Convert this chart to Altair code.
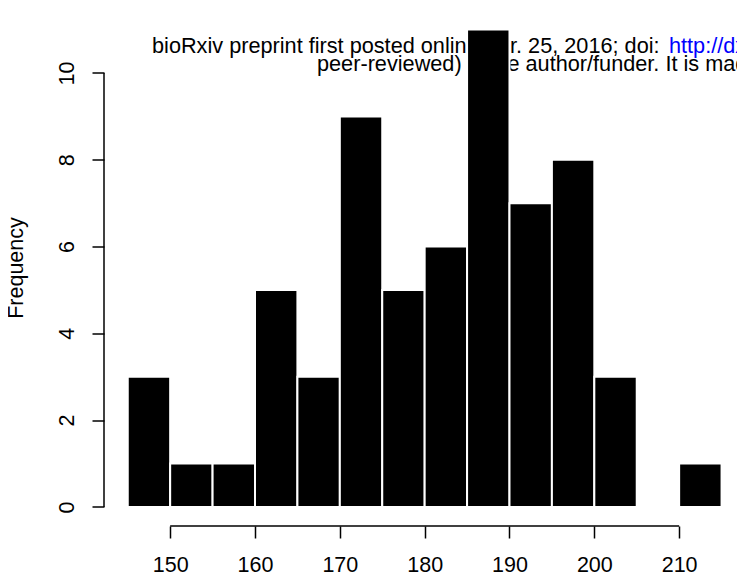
import altair as alt
import pandas as pd

# ---- data ----
bin_starts = [145, 150, 155, 160, 165, 170, 175, 180, 185, 190, 195, 200, 205, 210]
counts = [3, 1, 1, 5, 3, 9, 5, 6, 11, 7, 8, 3, 0, 1]
bin_width = 5
x_ticks = [150, 160, 170, 180, 190, 200, 210]
y_ticks = [0, 2, 4, 6, 8, 10]
y_title = "Frequency"
header_line1 = "bioRxiv preprint first posted online Apr. 25, 2016; doi: "
header_url = "http://dx.doi.org/"
header_line2 = "peer-reviewed) is the author/funder. It is made available under a CC-BY-NC-ND 4.0 International license."

# R-style plot region (4% extension of data range), cut at the page's right edge
VIEW_W = 633
VIEW_H = 515.5
x_dom = [142.2, 216.82]
y_dom = [-0.44, 11.44]

FONT = "Liberation Sans"
FS = 21.5
FS_HEAD = 21.7

bars_df = pd.DataFrame({
    "start": bin_starts,
    "end": [s + bin_width for s in bin_starts],
    "count": counts,
})
xs = alt.Scale(domain=x_dom, nice=False, zero=False)
ys = alt.Scale(domain=y_dom, nice=False, zero=False)

x_axis = alt.Axis(values=x_ticks, domain=False, grid=False, tickSize=12,
                  tickWidth=1.5, tickColor="black", labelColor="black",
                  labelFont=FONT, labelFontSize=FS, labelPadding=16,
                  labelFlush=False, labelOverlap=False)
y_axis = alt.Axis(values=y_ticks, domain=False, grid=False, tickSize=12,
                  tickWidth=1.5, tickColor="black", labelColor="black",
                  labelFont=FONT, labelFontSize=FS, labelAngle=270,
                  labelAlign="center", labelBaseline="alphabetic",
                  labelPadding=19, labelFlush=False, labelOverlap=False)


def header(text, x, y, color="black"):
    return alt.Chart(pd.DataFrame({"t": [text]})).mark_text(
        align="left", baseline="alphabetic", fontSize=FS_HEAD, font=FONT, color=color
    ).encode(text="t:N", x=alt.value(x), y=alt.value(y))


h1 = header(header_line1, 48, 42)
h_url = header(header_url, 565, 42, color="#0000ff")
h2 = header(header_line2, 213, 60)

bars = alt.Chart(bars_df).mark_rect(fill="black", stroke="white", strokeWidth=2).encode(
    x=alt.X("start:Q", scale=xs, title=None, axis=x_axis),
    x2="end:Q",
    y=alt.Y("count:Q", scale=ys, title=None, axis=y_axis),
    y2=alt.datum(0),
)

x_line = alt.Chart(pd.DataFrame({"a": [x_ticks[0]], "b": [x_ticks[-1]], "y": [y_dom[0]]})).mark_rule(
    color="black", strokeWidth=1.5
).encode(x=alt.X("a:Q", scale=xs, title=None, axis=x_axis), x2="b:Q",
         y=alt.Y("y:Q", scale=ys, title=None, axis=y_axis))

y_line = alt.Chart(pd.DataFrame({"x": [x_dom[0]], "a": [y_ticks[0]], "b": [y_ticks[-1]]})).mark_rule(
    color="black", strokeWidth=1.5
).encode(x=alt.X("x:Q", scale=xs, title=None, axis=x_axis),
         y=alt.Y("a:Q", scale=ys, title=None, axis=y_axis), y2="b:Q")

ytitle = alt.Chart(pd.DataFrame({"t": [y_title]})).mark_text(
    angle=270, align="center", baseline="middle", fontSize=FS, font=FONT, color="black"
).encode(text="t:N", x=alt.value(-87), y=alt.value(257.5))

chart = alt.layer(h1, h_url, h2, bars, x_line, y_line, ytitle).properties(
    width=VIEW_W, height=VIEW_H,
    autosize=alt.AutoSizeParams(type="none"),
    padding={"left": 96, "top": 2.5, "right": 0, "bottom": 48},
    background="white",
).configure_view(stroke=None)

chart.save("out.html", embed_options={"renderer": "svg", "actions": False})
